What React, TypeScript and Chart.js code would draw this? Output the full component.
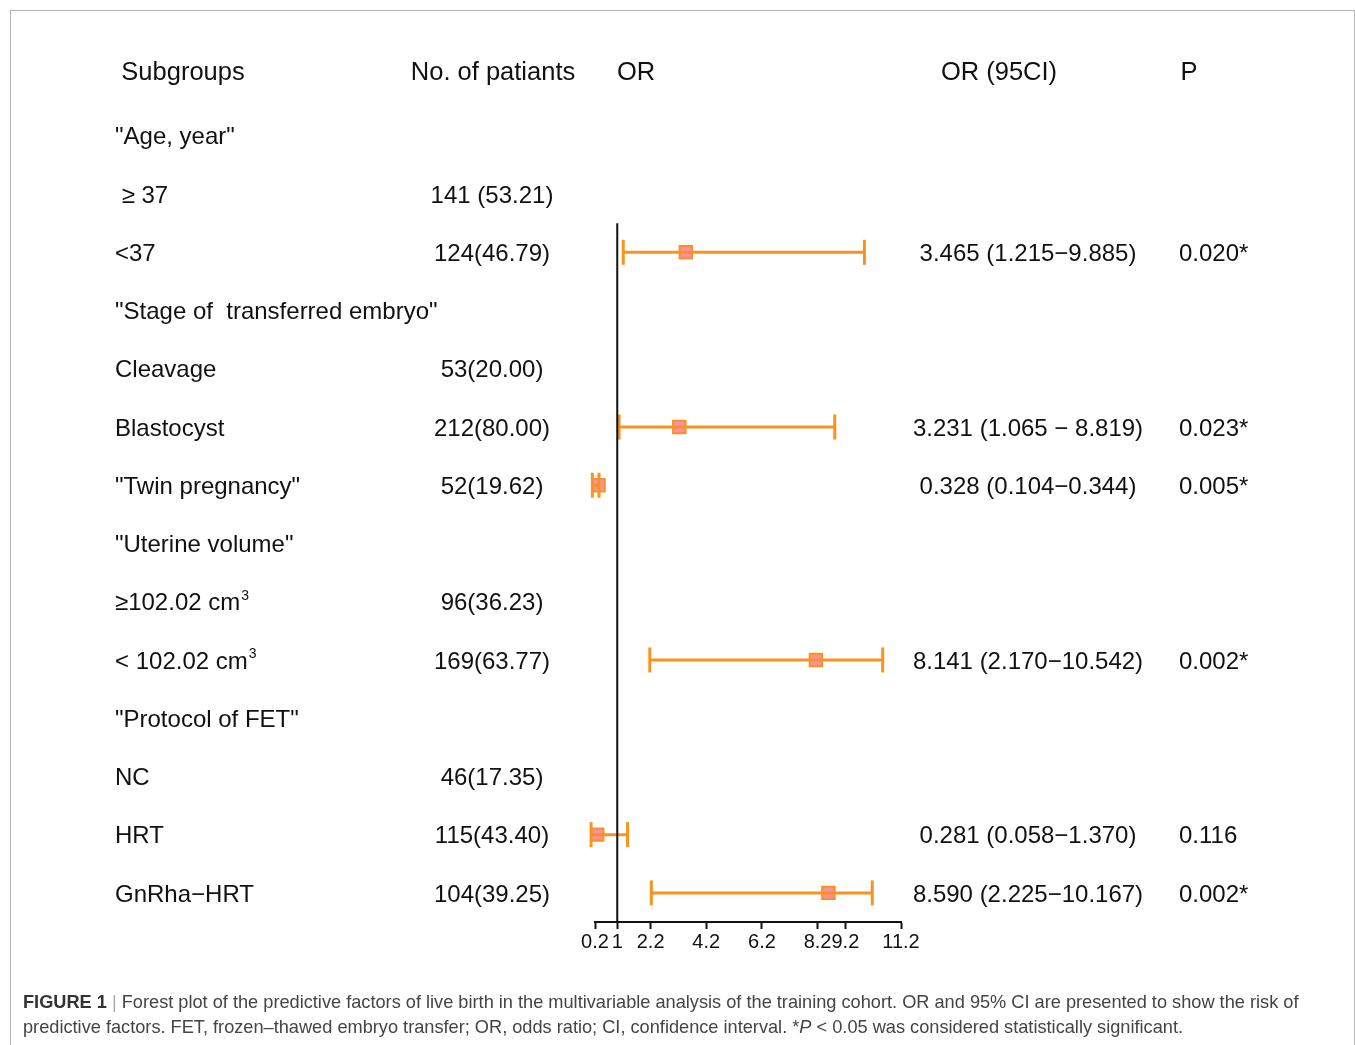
import React, { useEffect, useRef } from "react";
import { Chart, registerables } from "chart.js";

Chart.register(...registerables);

const rowLabels = [
  '"Age, year"',
  " ≥ 37",
  "<37",
  '"Stage of  transferred embryo"',
  "Cleavage",
  "Blastocyst",
  '"Twin pregnancy"',
  '"Uterine volume"',
  "≥102.02 cm³",
  "< 102.02 cm³",
  '"Protocol of FET"',
  "NC",
  "HRT",
  "GnRha−HRT",
];
const patients = [
  "",
  "141 (53.21)",
  "124(46.79)",
  "",
  "53(20.00)",
  "212(80.00)",
  "52(19.62)",
  "",
  "96(36.23)",
  "169(63.77)",
  "",
  "46(17.35)",
  "115(43.40)",
  "104(39.25)",
];
const orValues: (number | null)[] = [null, null, 3.465, null, null, 3.231, 0.328, null, null, 8.141, null, null, 0.281, 8.59];
const ciLow: (number | null)[] = [null, null, 1.215, null, null, 1.065, 0.104, null, null, 2.17, null, null, 0.058, 2.225];
const ciHigh: (number | null)[] = [null, null, 9.885, null, null, 8.819, 0.344, null, null, 10.542, null, null, 1.37, 10.167];
const orText = [
  "",
  "",
  "3.465 (1.215−9.885)",
  "",
  "",
  "3.231 (1.065 − 8.819)",
  "0.328 (0.104−0.344)",
  "",
  "",
  "8.141 (2.170−10.542)",
  "",
  "",
  "0.281 (0.058−1.370)",
  "8.590 (2.225−10.167)",
];
const pText = ["", "", "0.020*", "", "", "0.023*", "0.005*", "", "", "0.002*", "", "", "0.116", "0.002*"];
const headers = ["Subgroups", "No. of patiants", "OR", "OR (95CI)", "P"];
const xTicks = [0.2, 1, 2.2, 4.2, 6.2, 8.2, 9.2, 11.2];
const refLineX = 1;
const refLineRows = [1.5, 13.5];

const FONT = '"Liberation Sans", Arial, Helvetica, sans-serif';
const ORANGE = "#F7931E";
const PINK = "#F98FA8";

const tablePlugin = {
  id: "forestTable",
  afterDraw(chart: any) {
    const ctx = chart.ctx;
    const ys = chart.scales.y;
    ctx.save();
    ctx.fillStyle = "#111";
    ctx.textBaseline = "middle";
    ctx.font = `25.5px ${FONT}`;
    const hy = ys.getPixelForValue(-1.12) + 2;
    const hdr: [string, number, CanvasTextAlign][] = [
      [headers[0], 183, "center"],
      [headers[1], 493, "center"],
      [headers[2], 617, "left"],
      [headers[3], 999, "center"],
      [headers[4], 1189, "center"],
    ];
    hdr.forEach(([t, x, a]) => {
      ctx.textAlign = a;
      ctx.fillText(t, x, hy);
    });
    rowLabels.forEach((lab, i) => {
      const y = ys.getPixelForValue(i) + 2;
      ctx.font = `24px ${FONT}`;
      ctx.textAlign = "left";
      if (lab.endsWith("³")) {
        const base = lab.slice(0, -1);
        ctx.fillText(base, 115, y);
        const w = ctx.measureText(base).width;
        ctx.font = `14px ${FONT}`;
        ctx.fillText("3", 115 + w + 1, y - 8);
        ctx.font = `24px ${FONT}`;
      } else {
        ctx.fillText(lab, 115, y);
      }
      ctx.textAlign = "center";
      ctx.fillText(patients[i], 492, y);
      ctx.fillText(orText[i], 1028, y);
      ctx.textAlign = "left";
      ctx.fillText(pText[i], 1179, y);
    });
    ctx.restore();
  },
};

export default function App() {
  const ref = useRef<HTMLCanvasElement>(null);
  useEffect(() => {
    if (!ref.current) return;
    const datasets: any[] = [];
    datasets.push({
      type: "line",
      data: refLineRows.map((r) => ({ x: refLineX, y: r })),
      borderColor: "#111",
      borderWidth: 2,
      pointRadius: 0,
      clip: false,
    });
    orValues.forEach((v, i) => {
      if (v === null) return;
      datasets.push({
        type: "line",
        data: [
          { x: ciLow[i], y: i },
          { x: ciHigh[i], y: i },
        ],
        borderColor: ORANGE,
        borderWidth: 3,
        pointRadius: 0,
        clip: false,
      });
    });
    const caps: any[] = [];
    const pts: any[] = [];
    orValues.forEach((v, i) => {
      if (v === null) return;
      caps.push({ x: ciLow[i], y: i }, { x: ciHigh[i], y: i });
      pts.push({ x: v, y: i });
    });
    datasets.push({
      type: "scatter",
      data: caps,
      pointStyle: "line",
      rotation: 90,
      pointRadius: 12.5,
      borderColor: ORANGE,
      borderWidth: 3,
      clip: false,
    });
    datasets.push({
      type: "scatter",
      data: pts,
      pointStyle: "rect",
      pointRadius: 8.8,
      backgroundColor: PINK,
      borderColor: ORANGE,
      borderWidth: 2,
      clip: false,
    });

    const chart = new Chart(ref.current, {
      type: "scatter",
      data: { datasets },
      options: {
        animation: false,
        responsive: false,
        devicePixelRatio: 1,
        layout: { padding: { left: 595, right: 454, top: 48.5, bottom: 93 } },
        plugins: { legend: { display: false }, tooltip: { enabled: false } },
        scales: {
          x: {
            type: "linear",
            min: 0.2,
            max: 11.2,
            afterBuildTicks: (scale: any) => {
              scale.ticks = xTicks.map((v) => ({ value: v }));
            },
            afterFit: (scale: any) => {
              scale.height = 30;
            },
            grid: {
              display: true,
              drawOnChartArea: false,
              drawTicks: true,
              tickLength: 7,
              tickWidth: 2,
              tickColor: "#111",
            },
            border: { display: true, color: "#111", width: 2 },
            ticks: {
              autoSkip: false,
              maxRotation: 0,
              padding: 1,
              color: "#111",
              font: { family: FONT, size: 20 },
              callback: (v: any) => String(v),
            },
          },
          y: {
            type: "linear",
            display: false,
            min: -1.5,
            max: 13.5,
            reverse: true,
          },
        },
      },
      plugins: [tablePlugin],
    } as any);
    return () => chart.destroy();
  }, []);

  return (
    <div
      style={{
        position: "fixed",
        left: 0,
        top: 0,
        width: 1355,
        height: 1045,
        overflow: "hidden",
        background: "#fff",
      }}
    >
      <canvas ref={ref} width={1355} height={1045} style={{ position: "absolute", left: 0, top: 0 }} />
      <div
        style={{
          position: "absolute",
          left: 10,
          top: 10,
          width: 1343,
          height: 1045,
          border: "1px solid #b5b5b5",
          pointerEvents: "none",
        }}
      />
      <div
        style={{
          position: "absolute",
          left: 23,
          top: 990,
          width: 1320,
          fontFamily: FONT,
          fontSize: 18.2,
          lineHeight: "25px",
          color: "#444",
          whiteSpace: "nowrap",
        }}
      >
        <b style={{ color: "#333" }}>FIGURE 1</b> <span style={{ color: "#aaa" }}>|</span> Forest plot of the predictive
        factors of live birth in the multivariable analysis of the training cohort. OR and 95% CI are presented to show
        the risk of
        <br />
        predictive factors. FET, frozen–thawed embryo transfer; OR, odds ratio; CI, confidence interval. *<i>P</i> &lt;
        0.05 was considered statistically significant.
      </div>
    </div>
  );
}
